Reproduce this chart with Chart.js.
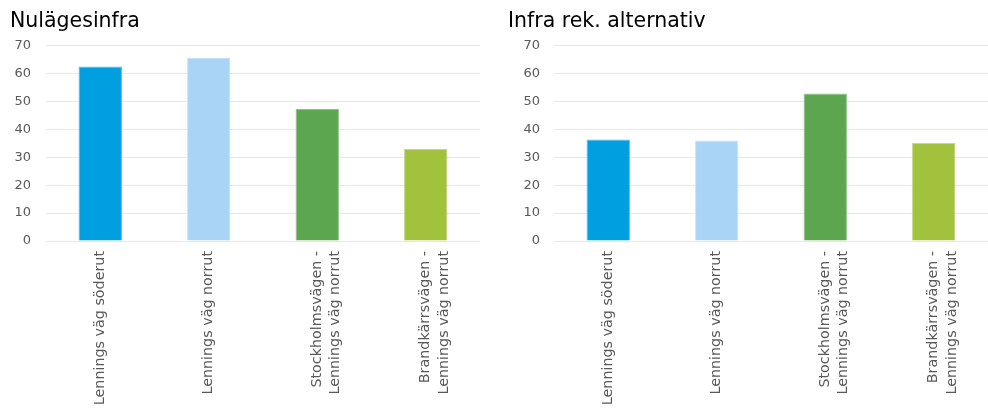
<!DOCTYPE html>
<html>
<head>
<meta charset="utf-8">
<script src="https://cdn.jsdelivr.net/npm/chart.js@4/dist/chart.umd.min.js"></script>
<style>
  html, body { margin: 0; padding: 0; background: #fff; }
  #wrap { position: relative; width: 988px; height: 410px; }
  .panel { position: absolute; top: 0; width: 494px; height: 410px; }
  #left { left: 0; }
  #right { left: 494px; }
</style>
</head>
<body>
<div id="wrap">
  <div class="panel" id="left"><canvas id="c1"></canvas></div>
  <div class="panel" id="right"><canvas id="c2"></canvas></div>
</div>
<script>
// Road sections (x-axis categories)
const categories = [
  'Lennings väg söderut',
  'Lennings väg norrut',
  ['Stockholmsvägen -', 'Lennings väg norrut'],
  ['Brandkärrsvägen -', 'Lennings väg norrut']
];
// Current infrastructure
const nulageValues = [62.5, 65.7, 47.3, 33.0];
// Recommended infrastructure alternative
const infraRekValues = [36.4, 36.0, 52.8, 35.2];
// Y axis ticks
const yTicks = [0, 10, 20, 30, 40, 50, 60, 70];

const barColors = ['#009FE0', '#A9D4F5', '#5DA650', '#A2C23E'];
const barEdges  = ['#4DBCEB', '#C8E4F9', '#8EC285', '#C2D87F'];

const FONT = '"DejaVu Sans", Verdana, sans-serif';

function makeChart(id, title, values, opts) {
  return new Chart(document.getElementById(id), {
    type: 'bar',
    data: {
      labels: categories,
      datasets: [{
        data: values,
        backgroundColor: barColors,
        borderColor: barEdges,
        borderWidth: 1,
        borderSkipped: 'bottom',
        categoryPercentage: 1.0,
        barPercentage: 0.4
      }]
    },
    options: {
      responsive: true,
      maintainAspectRatio: false,
      animation: false,
      layout: { padding: { left: opts.padLeft, right: opts.padRight, top: 0, bottom: 0 } },
      plugins: {
        legend: { display: false },
        tooltip: { enabled: false },
        title: {
          display: true,
          text: title,
          align: 'start',
          color: '#000',
          font: { family: FONT, size: 20.5, weight: 'normal', lineHeight: 1.2 },
          padding: { top: 9, bottom: 12 }
        }
      },
      scales: {
        x: {
          afterFit: (axis) => { axis.height = 169; },
          grid: { display: false, drawTicks: false },
          border: { display: false },
          ticks: {
            color: '#595959',
            font: { family: FONT, size: 14.3, lineHeight: 1.28 },
            maxRotation: 90,
            minRotation: 90,
            padding: 10,
            autoSkip: false
          }
        },
        y: {
          min: 0,
          max: 70,
          afterBuildTicks: (axis) => { axis.ticks = yTicks.map(v => ({ value: v })); },
          afterFit: (axis) => { axis.width = opts.axisWidth; },
          grid: { color: '#E8E8E8', lineWidth: 1, drawTicks: false },
          border: { display: false },
          ticks: {
            color: '#595959',
            font: { family: FONT, size: 13 },
            padding: opts.tickPad
          }
        }
      }
    }
  });
}

makeChart('c1', 'Nulägesinfra', nulageValues, { padLeft: 10, padRight: 14, axisWidth: 36, tickPad: 15 });
makeChart('c2', 'Infra rek. alternativ', infraRekValues, { padLeft: 14, padRight: 0, axisWidth: 46, tickPad: 14 });
</script>
</body>
</html>
